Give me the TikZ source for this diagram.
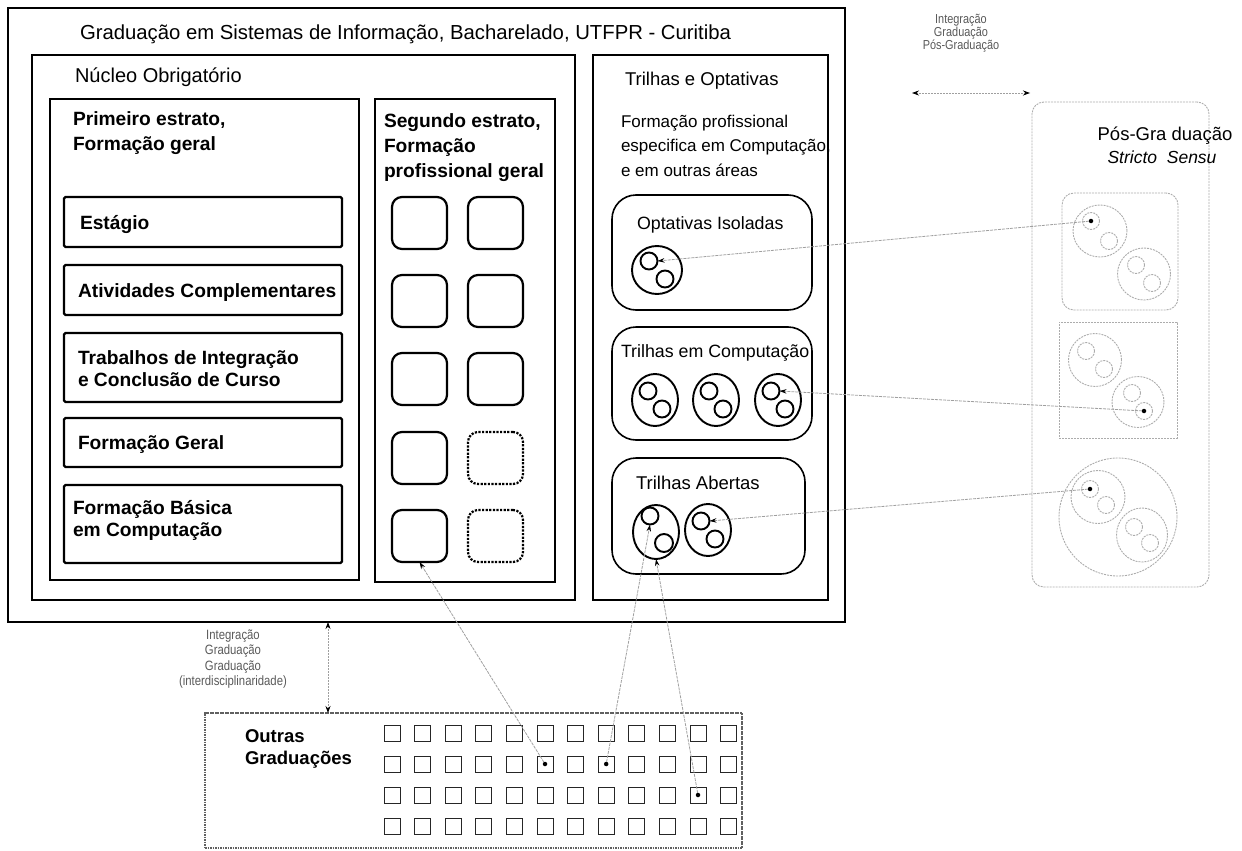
\documentclass[tikz,border=0pt]{standalone}
\usepackage{fontspec}
\setmainfont{Liberation Sans}
\newfontfamily\narrowsans{Liberation Sans}[FakeStretch=0.84]
\usetikzlibrary{arrows.meta,shapes.geometric}

\tikzset{
  frame/.style={draw, line width=1.3pt, inner sep=0pt, outer sep=0pt, anchor=north west},
  panel/.style={draw, line width=2.6pt, inner sep=0pt, outer sep=0pt, anchor=north west},
  itembox/.style={draw, line width=2.2pt, rounded corners=1.5pt, inner sep=0pt, outer sep=0pt, anchor=north west},
  tile/.style={draw, line width=2.2pt, rounded corners=10pt, inner sep=0pt, outer sep=0pt, anchor=north west,
    minimum width=55pt, minimum height=52pt},
  tilefaint/.style={tile, dash pattern=on 2.2pt off 1.4pt},
  group/.style={draw, line width=1.6pt, rounded corners=24pt, inner sep=0pt, outer sep=0pt, anchor=north west},
  ring/.style={draw, line width=1.9pt, inner sep=0pt, outer sep=0pt},
  faint/.style={draw=gray!65, line width=0.9pt, dash pattern=on 2pt off 1pt, inner sep=0pt, outer sep=0pt},
  faintbox/.style={faint, anchor=north west},
  cell/.style={draw=black!85, line width=0.9pt, minimum size=16pt, inner sep=0pt, outer sep=0pt},
  dotmark/.style={circle, fill=black, minimum size=4.5pt, inner sep=0pt, outer sep=0pt},
  link/.style={draw=gray!75, line width=0.8pt, dash pattern=on 3pt off 1pt,
    -{Stealth[length=7pt,width=4.5pt,color=black]}},
  twoway/.style={draw=gray!75, line width=0.8pt, dash pattern=on 2pt off 1pt,
    {Stealth[length=7pt,width=5pt,color=black]}-{Stealth[length=7pt,width=5pt,color=black]}},
  % base anchor of a multi-line label sits on its last line
  lbl/.style={anchor=base west, inner sep=0pt, outer sep=0pt, align=left,
    font=\fontsize{18.5}{24.5}\selectfont},
  blbl/.style={lbl, font=\fontsize{19.2}{25}\selectfont\bfseries},
  note/.style={text=gray!70!black, align=center, inner sep=0pt,
    font=\narrowsans\fontsize{13}{11.5}\selectfont},
}

% a ring holding two smaller rings: name, x, y, width, height, inner size, dx, dy, style
\newcommand\ringpair[9]{%
  \node[#9, ellipse, minimum width=#4pt, minimum height=#5pt] (#1) at (#2,#3) {};
  \node[#9, circle, minimum size=#6pt] (#1a) at (#2-#7,#3-#8) {};
  \node[#9, circle, minimum size=#6pt] (#1b) at (#2+#7,#3+#8) {};
}

\begin{document}
\begin{tikzpicture}[x=1pt,y=-1pt]
\useasboundingbox (0,0) rectangle (1242,851);

% ---------- course frame ----------
\node[frame, minimum width=837pt, minimum height=614pt] (outer) at (8,8) {};
\node[lbl, font=\fontsize{20.3}{24}\selectfont] (title) at (80,40) {Graduação em Sistemas de Informação, Bacharelado, UTFPR - Curitiba};

% ---------- compulsory core ----------
\node[panel, minimum width=543pt, minimum height=545pt] (core) at (32,55) {};
\node[lbl, font=\fontsize{20}{24}\selectfont] (coretitle) at (75,82) {Núcleo Obrigatório};

\node[panel, line width=2.3pt, minimum width=309pt, minimum height=481pt] (first) at (50,99) {};
\node[blbl] (firsttitle) at (73,150) {Primeiro estrato,\\Formação geral};

\node[itembox, minimum width=278pt, minimum height=50pt] (estagio) at (64,197) {};
\node[blbl] at (80,229) {Estágio};
\node[itembox, minimum width=278pt, minimum height=50pt] (ativ) at (64,265) {};
\node[blbl] at (78,297) {Atividades Complementares};
\node[itembox, minimum width=278pt, minimum height=69pt] (tcc) at (64,333) {};
\node[blbl, font=\fontsize{19.2}{22}\selectfont\bfseries] at (78,386) {Trabalhos de Integração\\e Conclusão de Curso};
\node[itembox, minimum width=278pt, minimum height=49pt] (fgeral) at (64,418) {};
\node[blbl] at (78,449) {Formação Geral};
\node[itembox, minimum width=278pt, minimum height=78pt] (fbasica) at (64,485) {};
\node[blbl, font=\fontsize{19.2}{22}\selectfont\bfseries] at (73,536) {Formação Básica\\em Computação};

\node[panel, line width=2.3pt, minimum width=180pt, minimum height=483pt] (second) at (375,99) {};
\node[blbl] (secondtitle) at (384,177) {Segundo estrato,\\Formação\\profissional geral};

\foreach \r/\y in {1/197,2/275,3/353,4/432,5/510}{
  \node[tile] (s\r c1) at (392,\y) {};
}
\foreach \r/\y in {1/197,2/275,3/353}{
  \node[tile] (s\r c2) at (468,\y) {};
}
\node[tilefaint] (s4c2) at (468,432) {};
\node[tilefaint] (s5c2) at (468,510) {};

% ---------- tracks and electives ----------
\node[panel, minimum width=235pt, minimum height=545pt] (tracks) at (593,55) {};
\node[lbl] (trackstitle) at (625,85) {Trilhas e Optativas};
\node[lbl, font=\fontsize{17}{24.5}\selectfont] (tracksnote) at (621,176) {Formação profissional\\especifica em Computação,\\e em outras áreas};

\node[group, minimum width=200pt, minimum height=115pt] (isol) at (612,195) {};
\node[lbl, font=\fontsize{17.8}{24}\selectfont] at (637,229) {Optativas Isoladas};
\ringpair{oc}{657}{270}{50}{48}{17}{8}{9}{ring}

\node[group, minimum width=200pt, minimum height=113pt] (comp) at (612,327) {};
\node[lbl, font=\fontsize{17.8}{24}\selectfont] at (621,357) {Trilhas em Computação};
\ringpair{tca}{655}{400}{46}{52}{17}{7}{9}{ring}
\ringpair{tcb}{716}{400}{46}{52}{17}{7}{9}{ring}
\ringpair{tcc}{778}{400}{46}{52}{17}{7}{9}{ring}

\node[group, minimum width=193pt, minimum height=116pt] (open) at (612,458) {};
\node[lbl] at (636,489) {Trilhas Abertas};
\node[ring, ellipse, minimum width=46pt, minimum height=54pt] (taa) at (656,532) {};
\node[ring, circle, minimum size=17pt] (taaa) at (650,516) {};
\node[ring, circle, minimum size=18pt] (taab) at (664,543) {};
\ringpair{tab}{708}{530}{46}{52}{17}{7}{9}{ring}

% ---------- graduate programme ----------
\node[faintbox, rounded corners=12pt, minimum width=177pt, minimum height=485pt] (pos) at (1032,102) {};
\node[lbl, anchor=base] at (1165,140) {Pós-Gra duação};
\node[lbl, anchor=base, font=\fontsize{17.5}{24}\selectfont\itshape] at (1162,163) {Stricto\ \ Sensu};

\node[faintbox, rounded corners=12pt, minimum width=116pt, minimum height=117pt] (posa) at (1062,193) {};
\ringpair{pa}{1100}{231}{54}{52}{17}{9}{10}{faint}
\ringpair{pb}{1144}{274}{53}{52}{17}{8}{9}{faint}

\node[faintbox, minimum width=118pt, minimum height=116pt] (posb) at (1059,322) {};
\ringpair{pc}{1095}{360}{53}{53}{17}{9}{9}{faint}
\ringpair{pd}{1138}{402}{52}{51}{17}{6}{9}{faint}

\node[faint, circle, minimum size=118pt] (pe) at (1118,517) {};
\ringpair{pf}{1098}{497}{54}{53}{17}{8}{8}{faint}
\ringpair{pg}{1142}{535}{51}{54}{17}{8}{8}{faint}

\node[dotmark] (dpa) at (paa) {};
\node[dotmark] (dpd) at (pdb) {};
\node[dotmark] (dpf) at (pfa) {};

% ---------- other undergraduate courses ----------
\node[faintbox, draw=gray!75!black, dash pattern=on 1.6pt off 0.9pt, line width=1.2pt,
  minimum width=537pt, minimum height=135pt] (other) at (205,713) {};
\node[blbl, font=\fontsize{18.5}{22}\selectfont\bfseries] at (245,764) {Outras\\Graduações};
\foreach \r/\y in {1/733,2/764,3/795,4/826}{
  \foreach \c in {1,...,12}{
    \node[cell] (g\r-\c) at ({392+30.6*(\c-1)},\y) {};
  }
}
\node[dotmark] (dg1) at (g2-6) {};
\node[dotmark] (dg2) at (g2-8) {};
\node[dotmark] (dg3) at (g3-11) {};

% ---------- integration arrows ----------
\coordinate (ipa) at (912,93);
\coordinate (ipb) at (1030,93);
\draw[twoway] (ipa) -- (ipb);
\node[note] at (961,33) {Integração\\Graduação\\Pós-Graduação};

\coordinate (iga) at (outer.south -| 328,0);
\coordinate (igb) at (other.north -| 328,0);
\draw[twoway] (iga) -- (igb);
\node[note, font=\narrowsans\fontsize{13.5}{15.5}\selectfont] at (233,659) {Integração\\Graduação\\Graduação\\(interdisciplinaridade)};

% ---------- links between courses ----------
\draw[link] (dpa) -- (oca.east);
\draw[link] (dpd) -- (tcca.east);
\draw[link] (dpf) -- (taba.east);
\draw[link] (dg1) -- (s5c1.south);
\draw[link] (dg2) -- (taaa.south);
\draw[link] (dg3) -- (taa.south);
\end{tikzpicture}
\end{document}
